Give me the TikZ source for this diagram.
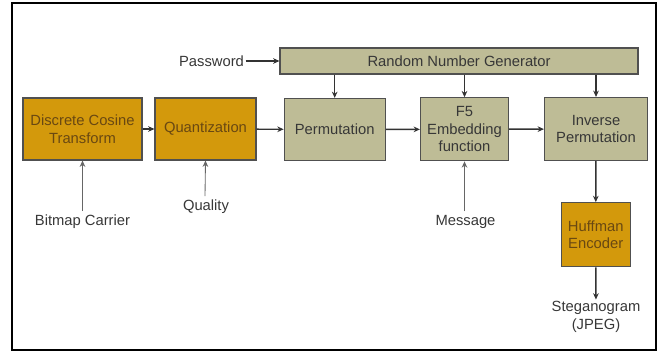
\documentclass[tikz,border=0pt]{standalone}
\usepackage{fontspec}
\setmainfont{Liberation Sans}
\usepackage{tikz}
\usetikzlibrary{arrows.meta}
\definecolor{dctgold}{RGB}{211,153,12}
\definecolor{dctbrown}{RGB}{105,72,18}
\definecolor{permkhaki}{RGB}{190,188,150}
\definecolor{edgegrey}{RGB}{80,80,80}
\definecolor{txtgrey}{RGB}{55,55,55}
\tikzset{
	goldbox/.style={draw=edgegrey, line width=0.8pt, fill=dctgold, text=dctbrown, align=center, inner sep=0pt},
	khakibox/.style={draw=edgegrey, line width=0.8pt, fill=permkhaki, text=txtgrey, align=center, inner sep=0pt},
	plain/.style={text=txtgrey, align=center, inner sep=1pt},
	flow/.style={draw=black!80, line width=1pt, -{Stealth[length=4.5pt, width=4pt]}},
	feed/.style={draw=black!60, line width=0.6pt, -{Stealth[length=4.5pt, width=4pt]}}
}

\begin{document}
\begin{tikzpicture}[x=0.025cm, y=-0.025cm, font=\fontsize{10.5}{12.5}\selectfont]
			%%%%% START %%%%%
			
			\useasboundingbox (0, 0) rectangle (662, 353);
			\draw[line width=0.8pt] (12, 3) rectangle (656, 350);
			
			% upper row of blocks
			\node[goldbox, minimum width=119*0.025cm, minimum height=62*0.025cm] (dct) at (82.5, 129) {Discrete Cosine\\Transform};
			\node[goldbox, minimum width=101*0.025cm, minimum height=62*0.025cm] (quant) at (205.5, 129) {Quantization};
			\node[khakibox, minimum width=101*0.025cm, minimum height=62*0.025cm] (perm) at (334.7, 129.5) {Permutation};
			\node[khakibox, minimum width=88*0.025cm, minimum height=63*0.025cm] (ffive) at (464.5, 129.3) {F5\\Embedding\\function};
			\node[khakibox, minimum width=103*0.025cm, minimum height=63*0.025cm] (invperm) at (596, 129) {Inverse\\Permutation};
			
			\node[khakibox, minimum width=358*0.025cm, minimum height=26*0.025cm] (rng) at (459, 61) {Random Number Generator};
			\node[goldbox, minimum width=69*0.025cm, minimum height=64*0.025cm] (huff) at (595.7, 234.7) {Huffman\\Encoder};
			
			% inputs and output
			\node[plain] (pwd) at (211.5, 61) {Password};
			\node[plain] (bitmap) at (82.5, 221.7) {Bitmap Carrier};
			\node[plain] (quality) at (206, 206.7) {Quality};
			\node[plain] (msg) at (465.5, 221.7) {Message};
			\node[plain] (stego) at (596, 316.7) {Steganogram\\(JPEG)};
			
			% main chain
			\draw[flow] (dct) -- (quant);
			\draw[flow] (quant) -- (perm);
			\draw[flow] (perm) -- (ffive);
			\draw[flow] (ffive) -- (invperm);
			\draw[flow] (invperm) -- (huff);
			\draw[flow] (huff) -- (stego);
			
			% generator
			\draw[flow] (pwd) -- (rng);
			\draw[flow] (perm.north |- rng.south) -- (perm);
			\draw[flow] (ffive.north |- rng.south) -- (ffive);
			\draw[flow] (invperm.north |- rng.south) -- (invperm);
			
			% side inputs
			\draw[feed] (bitmap.north) ++(0, -2) -- (dct.south);
			\draw[feed] (quality.north) ++(-1, -2) -- (quant.south);
			\draw[feed] (msg.north) ++(-1, -2) -- (ffive.south);
			
			%%%%% END %%%%%
		\end{tikzpicture}
\end{document}
